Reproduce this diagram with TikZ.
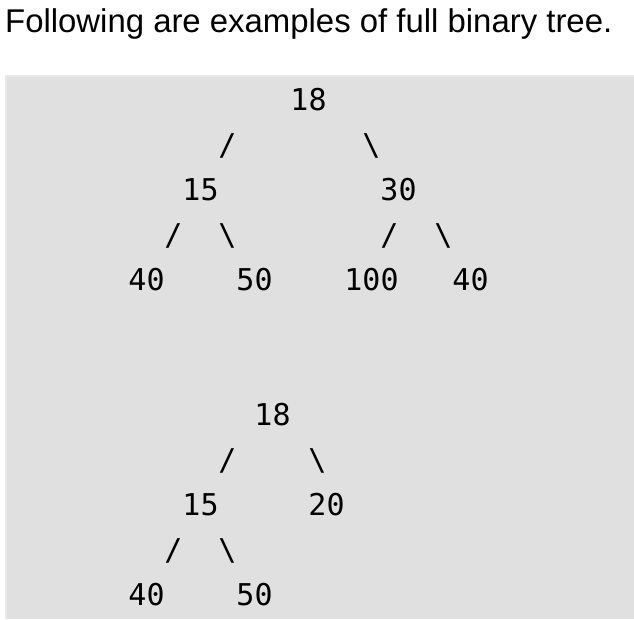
\documentclass[tikz,border=0pt]{standalone}
\usepackage{fontspec}
\setmainfont{Liberation Sans}
\newfontfamily\monofam{DejaVu Sans Mono}
\definecolor{boxfill}{RGB}{224,224,224}
\definecolor{boxedge}{RGB}{233,233,233}
\newcommand{\colx}[1]{137.5+18*#1}
\newcommand{\liney}[1]{110+45*#1}
\begin{document}
\begin{tikzpicture}[x=1pt,y=-1pt,
  tok/.style={inner sep=0pt, anchor=base, font=\monofam\fontsize{30}{30}\selectfont},
  titlestyle/.style={anchor=base west, inner sep=0pt, font=\fontsize{32.9}{38}\selectfont}]
\useasboundingbox (0,0) rectangle (634,619);
\fill[boxedge] (5,75) rectangle (634,619);
\fill[boxfill] (7,77) rectangle (634,619);
\node[titlestyle] (title) at (5,32) {Following are examples of full binary tree.};
% first tree
\node[tok] (a18) at ({\colx{9.5}},{\liney{0}}) {18};
\node[tok] (s1) at ({\colx{5}},{\liney{1}}) {/};
\node[tok] (s2) at ({\colx{13}},{\liney{1}}) {\textbackslash};
\node[tok] (a15) at ({\colx{3.5}},{\liney{2}}) {15};
\node[tok] (a30) at ({\colx{14.5}},{\liney{2}}) {30};
\node[tok] (s3) at ({\colx{2}},{\liney{3}}) {/};
\node[tok] (s4) at ({\colx{5}},{\liney{3}}) {\textbackslash};
\node[tok] (s5) at ({\colx{14}},{\liney{3}}) {/};
\node[tok] (s6) at ({\colx{17}},{\liney{3}}) {\textbackslash};
\node[tok] (a40) at ({\colx{0.5}},{\liney{4}}) {40};
\node[tok] (a50) at ({\colx{6.5}},{\liney{4}}) {50};
\node[tok] (a100) at ({\colx{13}},{\liney{4}}) {100};
\node[tok] (a40b) at ({\colx{18.5}},{\liney{4}}) {40};
% second tree
\node[tok] (b18) at ({\colx{7.5}},{\liney{7}}) {18};
\node[tok] (t1) at ({\colx{5}},{\liney{8}}) {/};
\node[tok] (t2) at ({\colx{10}},{\liney{8}}) {\textbackslash};
\node[tok] (b15) at ({\colx{3.5}},{\liney{9}}) {15};
\node[tok] (b20) at ({\colx{10.5}},{\liney{9}}) {20};
\node[tok] (t3) at ({\colx{2}},{\liney{10}}) {/};
\node[tok] (t4) at ({\colx{5}},{\liney{10}}) {\textbackslash};
\node[tok] (b40) at ({\colx{0.5}},{\liney{11}}) {40};
\node[tok] (b50) at ({\colx{6.5}},{\liney{11}}) {50};
\end{tikzpicture}
\end{document}
